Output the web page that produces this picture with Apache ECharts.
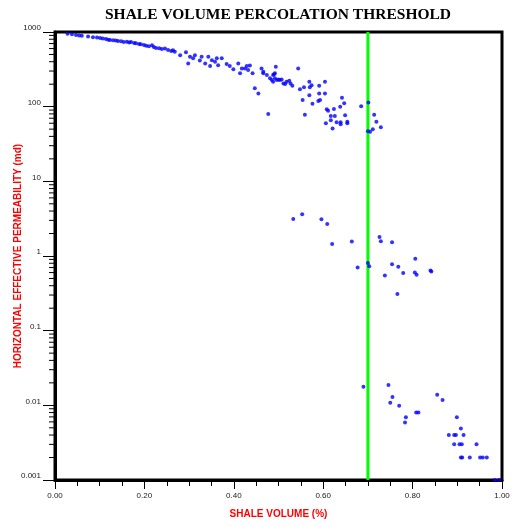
<!DOCTYPE html>
<html>
<head>
<meta charset="utf-8">
<script src="https://cdn.jsdelivr.net/npm/echarts@6/dist/echarts.min.js"></script>
<style>
  html, body { margin: 0; padding: 0; background: #fff; }
  #chart { width: 516px; height: 527px; }
</style>
</head>
<body>
<div id="chart"></div>
<script>
// shale volume (fraction) vs horizontal permeability (md)
const upperCloud = [
  [0.028, 950], [0.038, 930], [0.047, 910], [0.054, 900], [0.060, 890], [0.074, 870],
  [0.085, 850], [0.094, 845], [0.101, 830], [0.107, 820], [0.114, 805], [0.119, 790],
  [0.123, 780], [0.130, 775], [0.136, 770], [0.141, 755], [0.148, 750], [0.154, 735],
  [0.161, 740], [0.166, 725], [0.170, 735], [0.177, 710], [0.181, 705], [0.188, 690],
  [0.192, 685], [0.199, 670], [0.204, 655], [0.210, 645], [0.217, 665], [0.221, 630],
  [0.226, 610], [0.233, 605], [0.239, 590], [0.246, 600], [0.253, 575], [0.260, 555],
  [0.264, 570], [0.268, 545], [0.280, 490], [0.293, 535], [0.298, 380], [0.302, 465],
  [0.309, 445], [0.313, 490], [0.324, 415], [0.328, 465], [0.336, 380], [0.343, 465],
  [0.347, 350], [0.351, 420], [0.358, 400], [0.362, 445], [0.365, 360], [0.373, 445],
  [0.384, 373], [0.391, 350], [0.399, 317], [0.410, 380], [0.414, 280], [0.418, 325],
  [0.425, 325], [0.429, 350], [0.432, 310], [0.436, 355], [0.442, 280], [0.447, 176],
  [0.455, 150], [0.462, 325], [0.466, 280], [0.474, 265], [0.481, 240], [0.488, 216],
  [0.494, 343], [0.492, 280], [0.496, 228], [0.503, 228], [0.511, 205], [0.518, 216],
  [0.466, 294], [0.488, 265], [0.485, 228], [0.492, 240], [0.500, 232], [0.507, 232],
  [0.477, 80], [0.544, 325], [0.524, 223], [0.527, 205], [0.531, 191], [0.515, 201],
  [0.548, 171], [0.557, 182], [0.569, 216], [0.570, 182], [0.574, 193], [0.569, 142],
  [0.554, 123], [0.591, 191], [0.604, 216], [0.591, 150], [0.604, 150], [0.576, 109],
  [0.589, 119], [0.593, 123], [0.559, 78], [0.608, 92], [0.611, 88], [0.624, 93],
  [0.642, 132], [0.647, 111], [0.638, 100], [0.617, 75], [0.626, 75], [0.649, 77],
  [0.606, 60], [0.617, 66], [0.630, 62], [0.639, 62], [0.639, 58], [0.654, 63],
  [0.654, 60], [0.621, 51], [0.685, 101], [0.701, 114], [0.714, 78], [0.719, 63],
  [0.729, 53], [0.711, 50], [0.705, 46], [0.700, 47], [0.490, 271]
];

const middleCloud = [
  [0.533, 3.13], [0.553, 3.62], [0.596, 3.10], [0.609, 2.68], [0.620, 1.45], [0.664, 1.56],
  [0.677, 0.70], [0.700, 0.805], [0.703, 0.73], [0.726, 1.80], [0.729, 1.57], [0.754, 1.53],
  [0.738, 0.55], [0.754, 0.775], [0.768, 0.72], [0.779, 0.59], [0.806, 0.92], [0.805, 0.60],
  [0.809, 0.56], [0.840, 0.64], [0.842, 0.62], [0.766, 0.31]
];

const lowerCloud = [
  [0.690, 0.0178], [0.746, 0.0187], [0.755, 0.0129], [0.750, 0.0108], [0.770, 0.0099],
  [0.785, 0.0069], [0.783, 0.0059], [0.808, 0.0080], [0.813, 0.0080], [0.855, 0.0139],
  [0.867, 0.0118], [0.899, 0.0069], [0.908, 0.0049], [0.881, 0.0040], [0.893, 0.0040],
  [0.897, 0.0040], [0.914, 0.0040], [0.893, 0.0030], [0.905, 0.0030], [0.910, 0.0030],
  [0.943, 0.0030], [0.908, 0.0020], [0.911, 0.0020], [0.928, 0.0020], [0.951, 0.0020],
  [0.957, 0.0020], [0.966, 0.0020], [0.984, 0.0010], [0.994, 0.0010]
];

const thresholdVolume = 0.7;
const yTickLabels = ['0.001', '0.01', '0.1', '1', '10', '100', '1000'];

// log minor ticks (2..9 per decade)
const minorTickValues = [];
for (let k = -3; k < 3; k++) {
  for (let m = 2; m <= 9; m++) minorTickValues.push(m * Math.pow(10, k));
}

const chart = echarts.init(document.getElementById('chart'));

const labelFont = { fontFamily: 'Liberation Sans', fontSize: 8, color: '#222' };
const nameFont = { fontFamily: 'Liberation Sans', fontSize: 10, fontWeight: 'bold', color: '#ff0000' };

chart.setOption({
  backgroundColor: '#fff',
  animation: false,
  title: {
    text: 'SHALE VOLUME PERCOLATION THRESHOLD',
    left: 273,
    textAlign: 'center',
    top: 2,
    textStyle: { fontFamily: 'Liberation Serif', fontWeight: 'bold', fontSize: 15.5, color: '#000' }
  },
  grid: {
    left: 55, right: 14, top: 32, bottom: 47,
    outerBoundsMode: 'none',
    containLabel: false,
    show: true, borderColor: '#000', borderWidth: 3
  },
  xAxis: {
    type: 'value', min: 0, max: 1, interval: 0.2,
    name: 'SHALE VOLUME (%)', nameLocation: 'middle', nameGap: 29,
    nameMoveOverlap: false,
    nameTextStyle: nameFont,
    axisLine: { lineStyle: { color: '#000', width: 3 } },
    axisTick: { length: 9, lineStyle: { color: '#000' } },
    minorTick: { show: true, splitNumber: 4, length: 6, lineStyle: { color: '#000' } },
    axisLabel: Object.assign({ margin: 12, formatter: v => v.toFixed(2) }, labelFont),
    splitLine: { show: false }
  },
  yAxis: {
    type: 'log', logBase: 10, min: 0.001, max: 1000, splitNumber: 6,
    name: 'HORIZONTAL EFFECTIVE PERMEABILITY (md)', nameLocation: 'middle', nameGap: 32,
    nameMoveOverlap: false,
    nameTextStyle: nameFont,
    axisLine: { lineStyle: { color: '#000', width: 3 } },
    axisTick: { length: 12, lineStyle: { color: '#000' } },
    axisLabel: Object.assign({
      margin: 14, verticalAlign: 'bottom',
      formatter: v => yTickLabels[Math.round(Math.log10(v)) + 3]
    }, labelFont),
    splitLine: { show: false }
  },
  series: [
    {
      type: 'custom',
      silent: true,
      clip: false,
      data: minorTickValues.map(v => [0, v]),
      renderItem: (params, api) => {
        const p = api.coord([0, api.value(1)]);
        return {
          type: 'line',
          shape: { x1: p[0] - 1, y1: p[1], x2: p[0] - 6, y2: p[1] },
          style: { stroke: '#000', lineWidth: 1 }
        };
      }
    },
    {
      type: 'line',
      silent: true,
      z: 1,
      symbol: 'none',
      lineStyle: { color: '#00ff00', width: 3 },
      data: [[thresholdVolume, 0.001], [thresholdVolume, 1000]]
    },
    {
      type: 'scatter',
      z: 3,
      symbolSize: 4,
      itemStyle: { color: '#0000ff' },
      data: upperCloud.concat(middleCloud, lowerCloud)
    }
  ]
});
</script>
</body>
</html>
